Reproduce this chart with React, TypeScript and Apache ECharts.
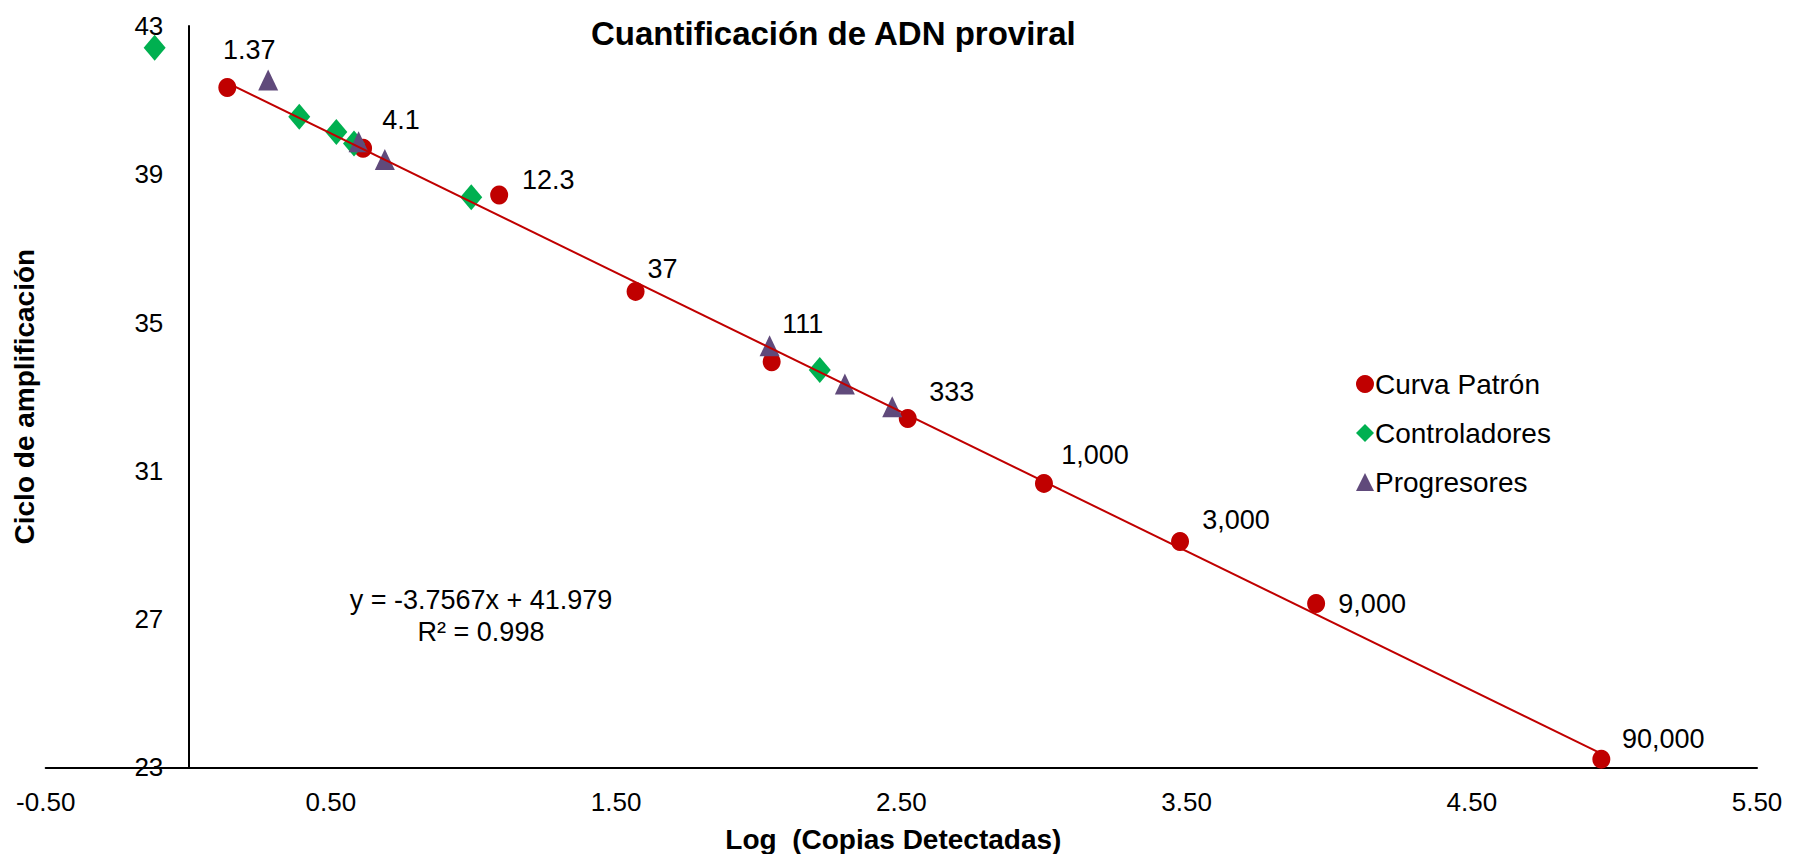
import React, { useEffect, useRef } from "react";
import * as echarts from "echarts";

// Standard curve: detected copies and the amplification cycle of each dilution
const standardCopies = [1.37, 4.1, 12.3, 37, 111, 333, 1000, 3000, 9000, 90000];
const standardCycle = [41.34, 39.7, 38.44, 35.84, 33.94, 32.41, 30.66, 29.09, 27.42, 23.22];

// Controladores: log(copies) and cycle
const controlLog = [-0.118, 0.389, 0.519, 0.581, 0.992, 2.214];
const controlCycle = [42.41, 40.55, 40.14, 39.83, 38.38, 33.72];

// Progresores: log(copies) and cycle
const progressorLog = [0.28, 0.597, 0.689, 2.038, 2.302, 2.468];
const progressorCycle = [41.54, 39.88, 39.4, 34.37, 33.34, 32.73];

// Linear fit of the standard curve
const fitSlope = -3.7567;
const fitIntercept = 41.979;
const fitR2 = 0.998;

// Axis ticks
const xTickMin = -0.5;
const xTickMax = 5.5;
const yTickMin = 23;
const yTickMax = 43;

// Label nudges (px) for the standard-curve value labels
const labelNudge: [number, number][] = [
  [22, -38], [38, -28], [49, -15], [27, -22], [31, -38],
  [44, -27], [51, -28], [56, -22], [56, 1], [62, -20],
];

const FONT = "'Liberation Sans', Arial, sans-serif";
const RED = "#C00000";
const GREEN = "#00B050";
const PURPLE = "#604A7B";

const GRID_LEFT = 45.7;
const GRID_RIGHT = 52;

export default function App() {
  const ref = useRef<HTMLDivElement>(null);

  useEffect(() => {
    if (!ref.current) return;
    const chart = echarts.init(ref.current, null, { renderer: "svg" });

    const standardLog = standardCopies.map((c) => Math.log10(c));
    const standardData = standardCopies.map((c, i) => ({
      value: [standardLog[i], standardCycle[i]],
      name: c.toLocaleString("en-US"),
      label: { offset: labelNudge[i] },
    }));
    const xs = [Math.min(...standardLog), Math.max(...standardLog)];
    const fitLine = xs.map((x) => [x, fitSlope * x + fitIntercept]);

    // the vertical axis sits where x = 0 on the horizontal axis
    const plotWidth = 1809 - GRID_LEFT - GRID_RIGHT;
    const zeroOffset = ((0 - xTickMin) / (xTickMax - xTickMin)) * plotWidth;

    chart.setOption({
      animation: false,
      backgroundColor: "#ffffff",
      textStyle: { fontFamily: FONT, color: "#000" },
      title: {
        text: "Cuantificación de ADN proviral",
        left: 586,
        top: 12,
        textStyle: { fontFamily: FONT, fontSize: 33, fontWeight: "bold", color: "#000" },
      },
      legend: {
        orient: "vertical",
        left: 1351,
        top: 365,
        itemWidth: 18,
        itemHeight: 18,
        itemGap: 21,
        textStyle: { fontFamily: FONT, fontSize: 28, color: "#000", lineHeight: 28, padding: [0, 0, 0, -4] },
        data: [
          { name: "Curva Patrón", icon: "circle" },
          { name: "Controladores", icon: "diamond" },
          { name: "Progresores", icon: "triangle" },
        ],
      },
      grid: {
        left: GRID_LEFT,
        right: GRID_RIGHT,
        top: 26,
        bottom: 86.7,
        containLabel: false,
        outerBoundsMode: "none",
      },
      xAxis: {
        type: "value",
        min: xTickMin,
        max: xTickMax,
        interval: 1,
        name: "Log  (Copias Detectadas)",
        nameLocation: "middle",
        nameGap: 58,
        nameTextStyle: { fontFamily: FONT, fontSize: 28, fontWeight: "bold", color: "#000", padding: [0, 16, 0, 0] },
        axisLine: { show: true, onZero: false, lineStyle: { color: "#000", width: 2 } },
        axisTick: { show: false },
        splitLine: { show: false },
        axisLabel: {
          fontFamily: FONT,
          fontSize: 26,
          color: "#000",
          margin: 22,
          formatter: (v: number) => v.toFixed(2),
        },
      },
      yAxis: {
        type: "value",
        position: "left",
        offset: -zeroOffset,
        min: yTickMin,
        max: yTickMax,
        interval: 4,
        name: "Ciclo de amplificación",
        nameLocation: "middle",
        nameRotate: 90,
        nameGap: 150,
        nameTextStyle: { fontFamily: FONT, fontSize: 28, fontWeight: "bold", color: "#000" },
        axisLine: { show: true, onZero: false, lineStyle: { color: "#000", width: 2 } },
        axisTick: { show: false },
        splitLine: { show: false },
        axisLabel: { fontFamily: FONT, fontSize: 26, color: "#000", margin: 25 },
      },
      series: [
        {
          name: "Curva Patrón",
          type: "scatter",
          symbol: "circle",
          symbolSize: [18, 19],
          itemStyle: { color: RED, opacity: 1 },
          data: standardData,
          label: {
            show: true,
            position: "inside",
            formatter: (p: any) => p.name,
            fontFamily: FONT,
            fontSize: 27,
            color: "#000",
          },
          z: 2,
        },
        {
          name: "Controladores",
          type: "scatter",
          symbol: "diamond",
          symbolSize: [22, 26],
          itemStyle: { color: GREEN, opacity: 1 },
          data: controlLog.map((x, i) => [x, controlCycle[i]]),
          z: 3,
        },
        {
          name: "Progresores",
          type: "scatter",
          symbol: "triangle",
          symbolSize: [20, 21],
          itemStyle: { color: PURPLE, opacity: 1 },
          data: progressorLog.map((x, i) => [x, progressorCycle[i]]),
          z: 4,
        },
        {
          name: "Lineal",
          type: "line",
          data: fitLine,
          showSymbol: false,
          symbol: "none",
          lineStyle: { color: RED, width: 2 },
          z: 5,
          silent: true,
        },
      ],
      graphic: [
        {
          type: "text",
          x: 481,
          y: 600,
          style: {
            text: `y = ${fitSlope}x + ${fitIntercept}`,
            font: `27px ${FONT}`,
            fill: "#000",
            align: "center",
            verticalAlign: "middle",
          },
        },
        {
          type: "text",
          x: 481,
          y: 632,
          style: {
            text: `R² = ${fitR2}`,
            font: `27px ${FONT}`,
            fill: "#000",
            align: "center",
            verticalAlign: "middle",
          },
        },
      ],
    });

    return () => chart.dispose();
  }, []);

  return (
    <div
      ref={ref}
      style={{ position: "fixed", left: 0, top: 0, width: 1809, height: 854 }}
    />
  );
}
